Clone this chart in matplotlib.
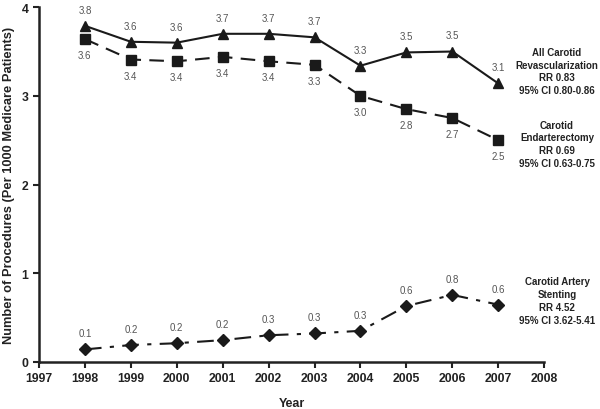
import matplotlib
matplotlib.use("Agg")
import matplotlib.pyplot as plt

plt.rcParams['font.family'] = ['Liberation Sans', 'DejaVu Sans']

years = [1998, 1999, 2000, 2001, 2002, 2003, 2004, 2005, 2006, 2007]
all_revasc = [3.79, 3.61, 3.60, 3.70, 3.70, 3.66, 3.34, 3.49, 3.50, 3.14]
all_labels = ["3.8", "3.6", "3.6", "3.7", "3.7", "3.7", "3.3", "3.5", "3.5", "3.1"]
cea = [3.64, 3.41, 3.39, 3.44, 3.39, 3.35, 3.00, 2.85, 2.75, 2.50]
cea_labels = ["3.6", "3.4", "3.4", "3.4", "3.4", "3.3", "3.0", "2.8", "2.7", "2.5"]
cas = [0.14, 0.19, 0.21, 0.245, 0.30, 0.32, 0.35, 0.63, 0.755, 0.645]
cas_labels = ["0.1", "0.2", "0.2", "0.2", "0.3", "0.3", "0.3", "0.6", "0.8", "0.6"]
xticks = list(range(1997, 2009))
yticks = [0, 1, 2, 3, 4]

fig = plt.figure(figsize=(6, 4.1), dpi=100)
ax = fig.add_axes([0.065, 0.115, 0.842, 0.865])

c = '#1a1a1a'
ax.plot(years, all_revasc, color=c, lw=1.5, marker='^', ms=7.5, linestyle='-')
ax.plot(years, cea, color=c, lw=1.5, marker='s', ms=7.5, linestyle=(0, (7, 4)))
ax.plot(years, cas, color=c, lw=1.5, marker='D', ms=6.5, linestyle=(0, (8, 4, 2, 4)))

lab_kw = dict(fontsize=7, color='#555555', ha='center')
for x, y, t in zip(years, all_revasc, all_labels):
    ax.annotate(t, (x, y), xytext=(0, 8), textcoords='offset points', va='bottom', **lab_kw)
for x, y, t in zip(years, cea, cea_labels):
    ax.annotate(t, (x, y), xytext=(0, -8), textcoords='offset points', va='top', **lab_kw)
for x, y, t in zip(years, cas, cas_labels):
    ax.annotate(t, (x, y), xytext=(0, 8), textcoords='offset points', va='bottom', **lab_kw)

side_kw = dict(fontsize=7, fontweight='bold', color='#222222', ha='center', va='center',
               linespacing=1.35, clip_on=False)
ax.text(2008.28, 3.28, "All Carotid\nRevascularization\nRR 0.83\n95% CI 0.80-0.86", **side_kw)
ax.text(2008.28, 2.46, "Carotid\nEndarterectomy\nRR 0.69\n95% CI 0.63-0.75", **side_kw)
ax.text(2008.28, 0.69, "Carotid Artery\nStenting\nRR 4.52\n95% CI 3.62-5.41", **side_kw)

ax.set_xlim(1997, 2008)
ax.set_ylim(0, 4)
ax.set_xticks(xticks)
ax.set_yticks(yticks)
ax.tick_params(axis='both', direction='out', width=1.5, length=4, labelsize=8.8, colors='#222222')
for lab in ax.get_xticklabels() + ax.get_yticklabels():
    lab.set_fontweight('bold')
for s in ['top', 'right']:
    ax.spines[s].set_visible(False)
for s in ['left', 'bottom']:
    ax.spines[s].set_linewidth(1.8)
    ax.spines[s].set_color('#222222')

ax.set_xlabel("Year", fontsize=9, fontweight='bold', color='#222222', labelpad=9)
ax.set_ylabel("Number of Procedures (Per 1000 Medicare Patients)", fontsize=9.3,
              fontweight='bold', color='#222222', labelpad=5)

fig.savefig("out.png", dpi=100)
